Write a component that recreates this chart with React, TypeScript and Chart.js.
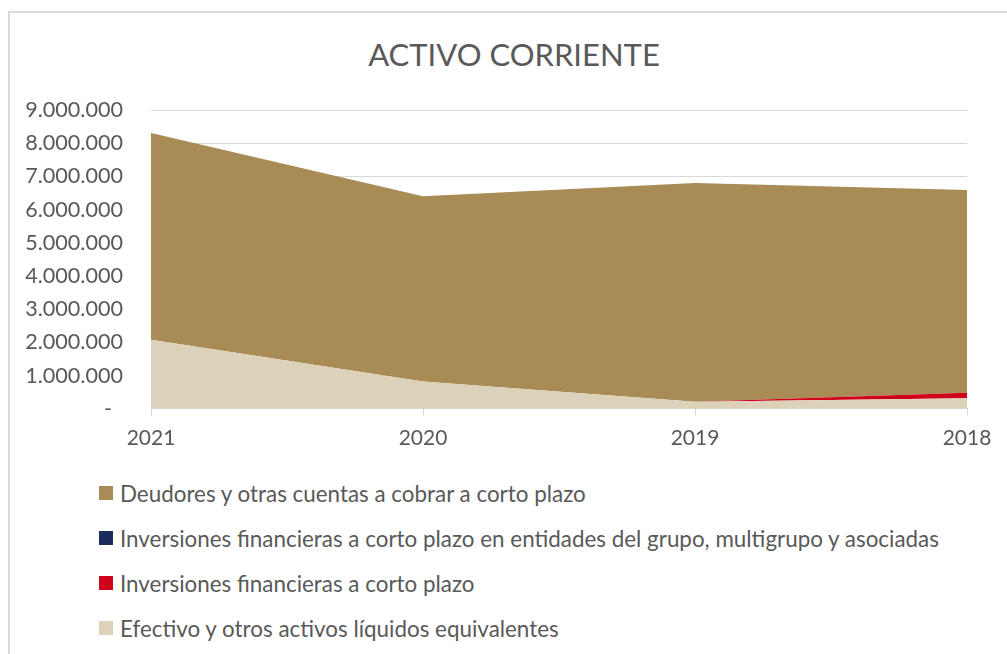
import React, { useEffect, useRef } from "react";
import { Chart, registerables } from "chart.js";

Chart.register(...registerables);

const title = "ACTIVO CORRIENTE";
const years = ["2021", "2020", "2019", "2018"];
const efectivo = [2080000, 820000, 210000, 320000];
const inversiones = [0, 0, 0, 160000];
const inversionesGrupo = [0, 0, 0, 0];
const deudores = [6230000, 5580000, 6590000, 6110000];
const yTicks = [0, 1000000, 2000000, 3000000, 4000000, 5000000, 6000000, 7000000, 8000000, 9000000];

const labelDeudores = "Deudores y otras cuentas a cobrar a corto plazo";
const labelGrupo = "Inversiones financieras a corto plazo en entidades del grupo, multigrupo y asociadas";
const labelInv = "Inversiones financieras a corto plazo";
const labelEfectivo = "Efectivo y otros activos líquidos equivalentes";

const COL_DEUDORES = "#A88B55";
const COL_GRUPO = "#1B2B5E";
const COL_INV = "#D0021B";
const COL_EFECTIVO = "#DCD2B9";

const FONT = "Lato, 'Open Sans', sans-serif";
const TEXT = "#595959";

function fmt(v: number): string {
  if (v === 0) return "-  ";
  return Math.round(v).toString().replace(/\B(?=(\d{3})+(?!\d))/g, ".");
}

const legendItems = [
  { label: labelDeudores, color: COL_DEUDORES },
  { label: labelGrupo, color: COL_GRUPO },
  { label: labelInv, color: COL_INV },
  { label: labelEfectivo, color: COL_EFECTIVO },
];

export default function App() {
  const ref = useRef<HTMLCanvasElement | null>(null);

  useEffect(() => {
    if (!ref.current) return;
    const chart = new Chart(ref.current, {
      type: "line",
      data: {
        labels: years,
        datasets: [
          { label: labelEfectivo, data: efectivo, backgroundColor: COL_EFECTIVO, borderColor: COL_EFECTIVO, fill: "origin" },
          { label: labelInv, data: inversiones, backgroundColor: COL_INV, borderColor: COL_INV, fill: "-1" },
          { label: labelGrupo, data: inversionesGrupo, backgroundColor: COL_GRUPO, borderColor: COL_GRUPO, fill: "-1" },
          { label: labelDeudores, data: deudores, backgroundColor: COL_DEUDORES, borderColor: COL_DEUDORES, fill: "-1" },
        ].map((d) => ({ ...d, pointRadius: 0, borderWidth: 0, tension: 0 })),
      },
      options: {
        animation: false,
        responsive: false,
        maintainAspectRatio: false,
        layout: { padding: { left: 0, right: 40, top: 110, bottom: 0 } },
        plugins: {
          legend: { display: false },
          tooltip: { enabled: false },
          title: { display: false },
        },
        scales: {
          x: {
            type: "category",
            offset: false,
            grid: { display: true, drawOnChartArea: false, drawTicks: true, tickLength: 7, color: "#D9D9D9" },
            border: { display: true, color: "#D9D9D9", width: 1 },
            ticks: { color: TEXT, font: { family: FONT, size: 21 }, padding: 10, maxRotation: 0 },
          },
          y: {
            stacked: true,
            min: 0,
            max: 9000000,
            afterBuildTicks: (scale: any) => {
              scale.ticks = yTicks.map((v) => ({ value: v }));
            },
            afterFit: (scale: any) => {
              scale.width = 151;
            },
            grid: { color: "#D9D9D9", drawTicks: false, lineWidth: 1 },
            border: { display: false },
            ticks: {
              color: TEXT,
              font: { family: FONT, size: 21.6 },
              padding: 28,
              callback: (v: any) => fmt(Number(v)),
            },
          },
        },
      },
    });
    return () => chart.destroy();
  }, []);

  return (
    <div style={{ position: "absolute", left: 0, top: 0, width: 1007, height: 654, overflow: "hidden", background: "#fff" }}>
      <div
        style={{
          position: "absolute",
          left: 8,
          top: 11,
          width: 1100,
          height: 700,
          border: "2px solid #D9D9D9",
          boxSizing: "border-box",
        }}
      />
      <div
        style={{
          position: "absolute",
          left: 0,
          width: 1028,
          top: 36,
          textAlign: "center",
          fontFamily: FONT,
          fontSize: 31,
          lineHeight: "37px",
          color: TEXT,
          whiteSpace: "nowrap",
        }}
      >
        {title}
      </div>
      <canvas ref={ref} width={1007} height={461} style={{ position: "absolute", left: 0, top: 0 }} />
      {legendItems.map((it, i) => (
        <div
          key={i}
          style={{
            position: "absolute",
            left: 99,
            top: 493 + i * 45 - 15,
            height: 30,
            display: "flex",
            alignItems: "center",
            fontFamily: FONT,
            fontSize: 22.4,
            color: TEXT,
            whiteSpace: "nowrap",
          }}
        >
          <span style={{ display: "inline-block", width: 14, height: 14, background: it.color, marginRight: 7 }} />
          <span>{it.label}</span>
        </div>
      ))}
    </div>
  );
}
